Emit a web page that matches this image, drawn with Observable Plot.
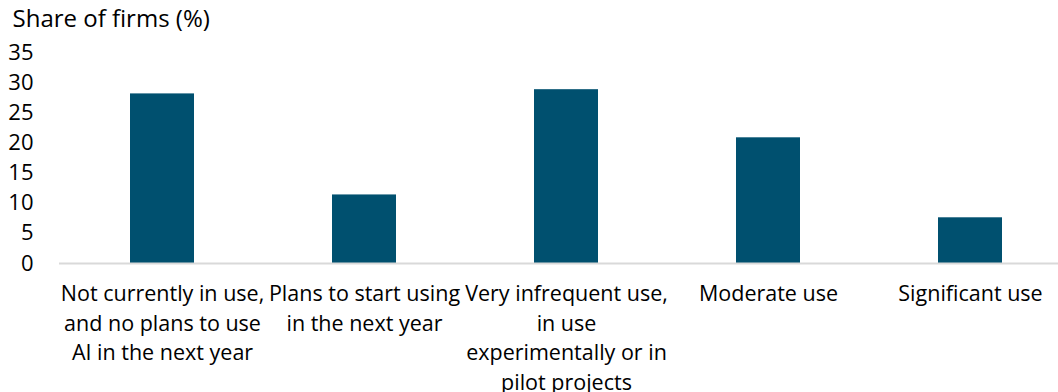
<!DOCTYPE html>
<html>
<head>
<meta charset="utf-8">
<script src="https://cdn.jsdelivr.net/npm/d3@7"></script>
<script src="https://cdn.jsdelivr.net/npm/@observablehq/plot@0.6"></script>
<style>
  html, body { margin: 0; padding: 0; background: #fff; overflow: hidden; }
  #chart svg { display: block; overflow: visible; }
</style>
</head>
<body>
<div id="chart"></div>
<script>
// Share of firms by AI usage level
const categories = [
  "Not currently in use,\nand no plans to use\nAI in the next year",
  "Plans to start using\nin the next year",
  "Very infrequent use,\nin use\nexperimentally or in\npilot projects",
  "Moderate use",
  "Significant use"
];
const shares = [28.2, 11.4, 28.9, 20.9, 7.6];
const yTicks = [0, 5, 10, 15, 20, 25, 30, 35];

const data = categories.map((c, i) => ({category: c, share: shares[i]}));

const font = "'Open Sans', 'Noto Sans', sans-serif";

const chart = Plot.plot({
  width: 1058,
  height: 392,
  marginLeft: 59,
  marginRight: 0,
  marginTop: 52.5,
  marginBottom: 129,
  style: {fontFamily: font, fontSize: "21.5px", color: "#000", background: "#fff"},
  x: {domain: categories, range: [58.6, 1072.4], paddingInner: 0.684, paddingOuter: 0.342},
  y: {domain: [0, 35]},
  marks: [
    Plot.barY(data, {x: "category", y: "share", fill: "#00506f"}),
    Plot.ruleY([0], {stroke: "#d9d9d9", strokeWidth: 2}),
    Plot.axisY({ticks: yTicks, tickSize: 0, tickPadding: 26, label: null, fontSize: 22}),
    Plot.axisX({tickSize: 0, tickPadding: 17, label: null, fontSize: 21.5, lineHeight: 1.37}),
    Plot.text(["Share of firms (%)"], {
      frameAnchor: "top-left", textAnchor: "start", lineAnchor: "top",
      dx: -47, dy: -43, fontSize: 24, fill: "#000"
    })
  ]
});

document.getElementById("chart").append(chart);
</script>
</body>
</html>
